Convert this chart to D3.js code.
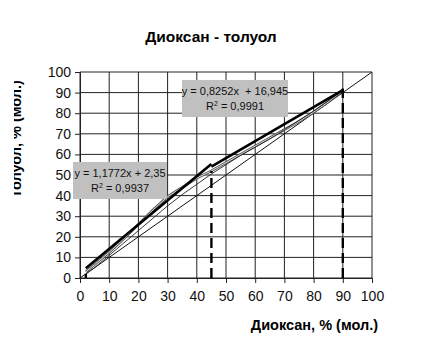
<!DOCTYPE html>
<html>
<head>
<meta charset="utf-8">
<script src="https://cdn.jsdelivr.net/npm/d3@7"></script>
<style>
  body { margin: 0; background: #fff; }
  text { font-family: "Liberation Sans", Arial, sans-serif; }
</style>
</head>
<body>
<svg id="svg1"></svg>
<script>
// data
var ticks = [0, 10, 20, 30, 40, 50, 60, 70, 80, 90, 100]
var xData = [2, 5, 10, 15, 20, 25, 30, 35, 40, 45, 50, 55, 60, 65, 70, 75, 80, 85, 90]
var expA = [3, 6.5, 12.5, 19, 26, 33, 39.5, 44, 48.5, 52, 56, 60, 64, 68, 72, 76, 80.5, 85.5, 91]
var expB = [2, 5, 11, 17, 23, 29, 35, 40.5, 45.5, 50.5, 55, 59.5, 63.5, 67.5, 72, 76.5, 81, 86, 91]
var dashX = [2, 45, 90]
var dashTop = [2, 52, 92]
var trends = [
  { a: 1.1772, b: 2.35, from: 2, to: 45, eq: "y = 1,1772x + 2,35", r2: "0,9937" },
  { a: 0.8252, b: 16.945, from: 45, to: 90, eq: "y = 0,8252x  + 16,945", r2: "0,9991" }
]

var W = 422, H = 354
var margin = { left: 80, top: 72, right: 50, bottom: 76 }
var width = W - margin.left - margin.right
var height = H - margin.top - margin.bottom

var root = d3.select("#svg1").attr("width", W).attr("height", H)
var svg = root.append("g")
  .attr("transform", `translate(${margin.left},${margin.top})`)

var x = d3.scaleLinear().domain([0, 100]).range([0, width])
var y = d3.scaleLinear().domain([0, 100]).range([height, 0])

// grid
svg.append("g").selectAll("line").data(ticks).enter().append("line")
  .attr("x1", d => x(d)).attr("x2", d => x(d))
  .attr("y1", 0).attr("y2", height)
  .style("stroke", "#222").style("stroke-width", 1)
svg.append("g").selectAll("line").data(ticks).enter().append("line")
  .attr("y1", d => y(d)).attr("y2", d => y(d))
  .attr("x1", 0).attr("x2", width)
  .style("stroke", "#222").style("stroke-width", 1)

// axes
svg.append("g")
  .attr("transform", "translate(0," + height + ")")
  .call(d3.axisBottom(x).tickValues(ticks).tickSize(5).tickPadding(8))
svg.append("g")
  .call(d3.axisLeft(y).tickValues(ticks).tickSize(5).tickPadding(4))
svg.selectAll(".tick text").style("font-size", "14px").style("fill", "#111")
  .style("font-family", "Liberation Sans, Arial, sans-serif")
svg.selectAll(".domain, .tick line").style("stroke", "#222")

// diagonal y = x
svg.append("line")
  .attr("x1", x(0)).attr("y1", y(0)).attr("x2", x(100)).attr("y2", y(100))
  .style("stroke", "#111").style("stroke-width", 1)

var line = d3.line().x(d => x(d[0])).y(d => y(d[1]))

// experimental series (outlined grey + thin dark)
var ptsA = xData.map((d, i) => [d, expA[i]])
var ptsB = xData.map((d, i) => [d, expB[i]])
svg.append("path").datum(ptsA).attr("d", line)
  .style("fill", "none").style("stroke", "#555").style("stroke-width", 2.6)
svg.append("path").datum(ptsA).attr("d", line)
  .style("fill", "none").style("stroke", "#ddd").style("stroke-width", 1)
svg.append("path").datum(ptsB).attr("d", line)
  .style("fill", "none").style("stroke", "#222").style("stroke-width", 0.9)

// trend lines (thick)
svg.selectAll(".trend").data(trends).enter().append("line")
  .attr("class", "trend")
  .attr("x1", d => x(d.from)).attr("y1", d => y(d.a * d.from + d.b))
  .attr("x2", d => x(d.to)).attr("y2", d => y(d.a * d.to + d.b))
  .style("stroke", "#000").style("stroke-width", 2.6)

// dashed verticals
svg.selectAll(".vdash").data(dashX).enter().append("line")
  .attr("class", "vdash")
  .attr("x1", d => x(d)).attr("x2", d => x(d))
  .attr("y1", y(0)).attr("y2", (d, i) => y(dashTop[i]))
  .style("stroke", "#000").style("stroke-width", 2.4)
  .style("stroke-dasharray", "10,5")

// equation boxes
var boxes = [
  { t: trends[1], x0: 182, y0: 80, w: 106, h: 37 },
  { t: trends[0], x0: 73, y0: 162, w: 94, h: 37 }
]
var bg = root.append("g")
boxes.forEach(function (b) {
  bg.append("rect").attr("x", b.x0).attr("y", b.y0).attr("width", b.w).attr("height", b.h)
    .style("fill", "#c0c0c0")
  bg.append("text").attr("x", b.x0 + b.w / 2).attr("y", b.y0 + 15)
    .style("text-anchor", "middle").style("font-size", "11px").style("fill", "#111")
    .style("white-space", "pre").attr("xml:space", "preserve")
    .text(b.t.eq)
  var r = bg.append("text").attr("x", b.x0 + b.w / 2).attr("y", b.y0 + 30)
    .style("text-anchor", "middle").style("font-size", "11px").style("fill", "#111")
  r.append("tspan").text("R")
  r.append("tspan").attr("dy", -4).style("font-size", "7px").text("2")
  r.append("tspan").attr("dy", 4).text(" = " + b.t.r2)
})

// titles
root.append("text").attr("x", 211).attr("y", 42)
  .style("text-anchor", "middle").style("font-size", "15.5px").style("font-weight", "bold")
  .text("Диоксан - толуол")
root.append("text").attr("x", 378).attr("y", 330)
  .style("text-anchor", "end").style("font-size", "14.5px").style("font-weight", "bold")
  .text("Диоксан, % (мол.)")

root.append("defs").append("clipPath").attr("id", "yclip")
  .append("rect").attr("x", 14).attr("y", 0).attr("width", 40).attr("height", H)
root.append("g").attr("clip-path", "url(#yclip)")
  .append("text")
  .attr("transform", "translate(20.5,139) rotate(-90)")
  .style("text-anchor", "middle").style("font-size", "14.5px").style("font-weight", "bold")
  .text("Толуол, % (мол.)")
</script>
</body>
</html>
